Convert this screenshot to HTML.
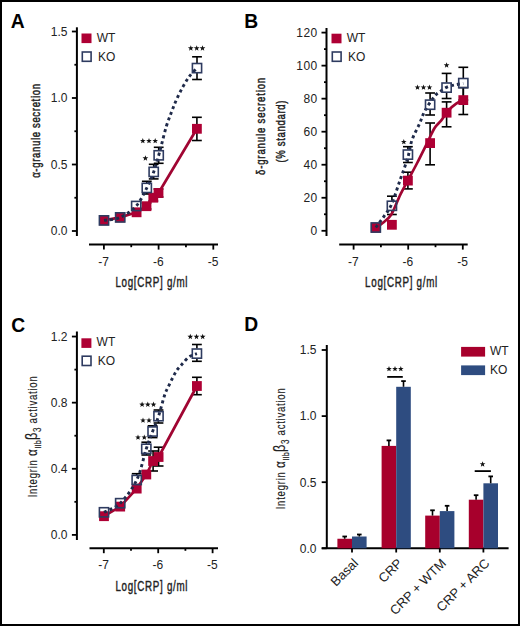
<!DOCTYPE html>
<html><head><meta charset="utf-8"><style>
html,body{margin:0;padding:0;background:#fff;}
body{width:520px;height:626px;overflow:hidden;}
svg{display:block;font-family:"Liberation Sans", sans-serif;}
</style></head><body>
<svg width="520" height="626" viewBox="0 0 520 626">
<rect x="0" y="0" width="520" height="626" fill="#fff"/>
<text x="10.80" y="27.50" font-size="19.3" text-anchor="start" fill="#000" font-weight="bold" >A</text>
<line x1="76.90" y1="27.30" x2="76.90" y2="236.00" stroke="#000" stroke-width="2" />
<line x1="71.90" y1="231.00" x2="76.90" y2="231.00" stroke="#000" stroke-width="1.8" />
<text x="67.50" y="235.30" font-size="12" text-anchor="end" fill="#222" font-weight="normal" >0.0</text>
<line x1="71.90" y1="164.50" x2="76.90" y2="164.50" stroke="#000" stroke-width="1.8" />
<text x="67.50" y="168.80" font-size="12" text-anchor="end" fill="#222" font-weight="normal" >0.5</text>
<line x1="71.90" y1="98.00" x2="76.90" y2="98.00" stroke="#000" stroke-width="1.8" />
<text x="67.50" y="102.30" font-size="12" text-anchor="end" fill="#222" font-weight="normal" >1.0</text>
<line x1="71.90" y1="31.50" x2="76.90" y2="31.50" stroke="#000" stroke-width="1.8" />
<text x="67.50" y="35.80" font-size="12" text-anchor="end" fill="#222" font-weight="normal" >1.5</text>
<line x1="74.40" y1="197.75" x2="76.90" y2="197.75" stroke="#000" stroke-width="1.8" />
<line x1="74.40" y1="131.25" x2="76.90" y2="131.25" stroke="#000" stroke-width="1.8" />
<line x1="74.40" y1="64.75" x2="76.90" y2="64.75" stroke="#000" stroke-width="1.8" />
<line x1="89.00" y1="244.60" x2="218.00" y2="244.60" stroke="#000" stroke-width="2" />
<line x1="103.90" y1="244.60" x2="103.90" y2="249.60" stroke="#000" stroke-width="1.8" />
<text x="103.60" y="265.80" font-size="12" text-anchor="middle" fill="#222" font-weight="normal" >-7</text>
<line x1="158.60" y1="244.60" x2="158.60" y2="249.60" stroke="#000" stroke-width="1.8" />
<text x="158.30" y="265.80" font-size="12" text-anchor="middle" fill="#222" font-weight="normal" >-6</text>
<line x1="213.30" y1="244.60" x2="213.30" y2="249.60" stroke="#000" stroke-width="1.8" />
<text x="213.00" y="265.80" font-size="12" text-anchor="middle" fill="#222" font-weight="normal" >-5</text>
<line x1="131.25" y1="244.60" x2="131.25" y2="247.20" stroke="#000" stroke-width="1.8" />
<line x1="185.95" y1="244.60" x2="185.95" y2="247.20" stroke="#000" stroke-width="1.8" />
<text transform="translate(151.80,286.90) scale(0.7,1)" font-size="14" text-anchor="middle" fill="#222" font-weight="normal" stroke="#222" stroke-width="0.42" letter-spacing="1.0">Log[CRP] g/ml</text>
<text transform="translate(40.40,130.60) rotate(-90) scale(0.8,1)" font-size="12" text-anchor="middle" fill="#222" font-weight="normal" stroke="#222" stroke-width="0.45" letter-spacing="0.8">α-granule secretion</text>
<rect x="81.50" y="33.50" width="10" height="9.6" fill="#ae0034"/>
<rect x="82.30" y="52.00" width="8.8" height="9.3" fill="none" stroke="#2e3b60" stroke-width="1.6"/>
<text x="96.70" y="41.60" font-size="12" text-anchor="start" fill="#222" font-weight="normal" >WT</text>
<text x="97.90" y="60.60" font-size="12" text-anchor="start" fill="#222" font-weight="normal" >KO</text>
<line x1="146.50" y1="203.00" x2="146.50" y2="209.00" stroke="#000" stroke-width="1.6" />
<line x1="141.60" y1="203.00" x2="151.40" y2="203.00" stroke="#000" stroke-width="1.6" />
<line x1="141.60" y1="209.00" x2="151.40" y2="209.00" stroke="#000" stroke-width="1.6" />
<line x1="153.30" y1="194.00" x2="153.30" y2="201.00" stroke="#000" stroke-width="1.6" />
<line x1="148.40" y1="194.00" x2="158.20" y2="194.00" stroke="#000" stroke-width="1.6" />
<line x1="148.40" y1="201.00" x2="158.20" y2="201.00" stroke="#000" stroke-width="1.6" />
<line x1="158.50" y1="189.00" x2="158.50" y2="197.00" stroke="#000" stroke-width="1.6" />
<line x1="153.60" y1="189.00" x2="163.40" y2="189.00" stroke="#000" stroke-width="1.6" />
<line x1="153.60" y1="197.00" x2="163.40" y2="197.00" stroke="#000" stroke-width="1.6" />
<line x1="196.90" y1="117.30" x2="196.90" y2="140.50" stroke="#000" stroke-width="1.6" />
<line x1="192.00" y1="117.30" x2="201.80" y2="117.30" stroke="#000" stroke-width="1.6" />
<line x1="192.00" y1="140.50" x2="201.80" y2="140.50" stroke="#000" stroke-width="1.6" />
<line x1="146.80" y1="181.30" x2="146.80" y2="182.90" stroke="#000" stroke-width="1.6" />
<line x1="141.90" y1="181.30" x2="151.70" y2="181.30" stroke="#000" stroke-width="1.6" />
<line x1="146.80" y1="192.90" x2="146.80" y2="194.00" stroke="#000" stroke-width="1.6" />
<line x1="141.90" y1="194.00" x2="151.70" y2="194.00" stroke="#000" stroke-width="1.6" />
<line x1="153.70" y1="164.30" x2="153.70" y2="166.90" stroke="#000" stroke-width="1.6" />
<line x1="148.80" y1="164.30" x2="158.60" y2="164.30" stroke="#000" stroke-width="1.6" />
<line x1="153.70" y1="176.90" x2="153.70" y2="178.90" stroke="#000" stroke-width="1.6" />
<line x1="148.80" y1="178.90" x2="158.60" y2="178.90" stroke="#000" stroke-width="1.6" />
<line x1="158.70" y1="147.30" x2="158.70" y2="150.30" stroke="#000" stroke-width="1.6" />
<line x1="153.80" y1="147.30" x2="163.60" y2="147.30" stroke="#000" stroke-width="1.6" />
<line x1="158.70" y1="160.30" x2="158.70" y2="163.30" stroke="#000" stroke-width="1.6" />
<line x1="153.80" y1="163.30" x2="163.60" y2="163.30" stroke="#000" stroke-width="1.6" />
<line x1="197.00" y1="56.80" x2="197.00" y2="63.10" stroke="#000" stroke-width="1.6" />
<line x1="192.10" y1="56.80" x2="201.90" y2="56.80" stroke="#000" stroke-width="1.6" />
<line x1="197.00" y1="73.10" x2="197.00" y2="79.50" stroke="#000" stroke-width="1.6" />
<line x1="192.10" y1="79.50" x2="201.90" y2="79.50" stroke="#000" stroke-width="1.6" />
<path d="M104.00,220.40 L120.20,217.40 L136.60,212.30 L146.50,206.20 L153.30,197.70 L158.50,193.00 L196.90,128.80" fill="none" stroke="#a00532" stroke-width="2.7" stroke-linejoin="round"/>
<rect x="99.10" y="215.50" width="9.8" height="9.8" fill="#ae0034"/>
<rect x="115.30" y="212.50" width="9.8" height="9.8" fill="#ae0034"/>
<rect x="131.70" y="207.40" width="9.8" height="9.8" fill="#ae0034"/>
<rect x="141.60" y="201.30" width="9.8" height="9.8" fill="#ae0034"/>
<rect x="148.40" y="192.80" width="9.8" height="9.8" fill="#ae0034"/>
<rect x="153.60" y="188.10" width="9.8" height="9.8" fill="#ae0034"/>
<rect x="192.00" y="123.90" width="9.8" height="9.8" fill="#ae0034"/>
<path d="M104.00,220.40 C106.70,219.90 114.83,219.80 120.20,217.40 C125.57,215.00 131.77,210.92 136.20,206.00 C140.63,201.08 143.88,193.58 146.80,187.90 C149.72,182.22 151.72,177.33 153.70,171.90 C155.68,166.47 157.32,160.15 158.70,155.30 C160.08,150.45 160.72,147.65 162.00,142.80 C163.28,137.95 164.82,131.32 166.40,126.20 C167.98,121.08 169.80,116.57 171.50,112.10 C173.20,107.63 174.68,103.65 176.60,99.40 C178.52,95.15 180.87,90.43 183.00,86.60 C185.13,82.77 187.07,79.48 189.40,76.40 C191.73,73.32 195.73,69.48 197.00,68.10" fill="none" stroke="#1f2a4a" stroke-width="2.9" stroke-dasharray="3 3.1"/>
<rect x="99.40" y="215.80" width="9.2" height="9.2" fill="none" stroke="#2e3b60" stroke-width="1.6"/>
<rect x="115.60" y="212.80" width="9.2" height="9.2" fill="none" stroke="#2e3b60" stroke-width="1.6"/>
<rect x="131.60" y="201.40" width="9.2" height="9.2" fill="none" stroke="#2e3b60" stroke-width="1.6"/>
<rect x="142.20" y="183.30" width="9.2" height="9.2" fill="none" stroke="#2e3b60" stroke-width="1.6"/>
<rect x="149.10" y="167.30" width="9.2" height="9.2" fill="none" stroke="#2e3b60" stroke-width="1.6"/>
<rect x="154.10" y="150.70" width="9.2" height="9.2" fill="none" stroke="#2e3b60" stroke-width="1.6"/>
<rect x="192.40" y="63.50" width="9.2" height="9.2" fill="none" stroke="#2e3b60" stroke-width="1.6"/>
<polygon points="190.80,45.30 191.53,47.29 193.65,47.37 191.99,48.69 192.56,50.73 190.80,49.55 189.04,50.73 189.61,48.69 187.95,47.37 190.07,47.29" fill="#111"/>
<polygon points="196.70,45.30 197.43,47.29 199.55,47.37 197.89,48.69 198.46,50.73 196.70,49.55 194.94,50.73 195.51,48.69 193.85,47.37 195.97,47.29" fill="#111"/>
<polygon points="202.50,45.30 203.23,47.29 205.35,47.37 203.69,48.69 204.26,50.73 202.50,49.55 200.74,50.73 201.31,48.69 199.65,47.37 201.77,47.29" fill="#111"/>
<polygon points="142.80,137.90 143.53,139.89 145.65,139.97 143.99,141.29 144.56,143.33 142.80,142.15 141.04,143.33 141.61,141.29 139.95,139.97 142.07,139.89" fill="#111"/>
<polygon points="149.00,137.90 149.73,139.89 151.85,139.97 150.19,141.29 150.76,143.33 149.00,142.15 147.24,143.33 147.81,141.29 146.15,139.97 148.27,139.89" fill="#111"/>
<polygon points="155.20,137.90 155.93,139.89 158.05,139.97 156.39,141.29 156.96,143.33 155.20,142.15 153.44,143.33 154.01,141.29 152.35,139.97 154.47,139.89" fill="#111"/>
<polygon points="145.40,155.30 146.13,157.29 148.25,157.37 146.59,158.69 147.16,160.73 145.40,159.55 143.64,160.73 144.21,158.69 142.55,157.37 144.67,157.29" fill="#111"/>
<text x="244.30" y="27.70" font-size="19.3" text-anchor="start" fill="#000" font-weight="bold" >B</text>
<line x1="326.50" y1="28.00" x2="326.50" y2="236.00" stroke="#000" stroke-width="2" />
<line x1="321.50" y1="230.80" x2="326.50" y2="230.80" stroke="#000" stroke-width="1.8" />
<text x="317.80" y="235.10" font-size="12" text-anchor="end" fill="#222" font-weight="normal" letter-spacing="0.5">0</text>
<line x1="321.50" y1="197.77" x2="326.50" y2="197.77" stroke="#000" stroke-width="1.8" />
<text x="317.80" y="202.07" font-size="12" text-anchor="end" fill="#222" font-weight="normal" letter-spacing="0.5">20</text>
<line x1="321.50" y1="164.73" x2="326.50" y2="164.73" stroke="#000" stroke-width="1.8" />
<text x="317.80" y="169.03" font-size="12" text-anchor="end" fill="#222" font-weight="normal" letter-spacing="0.5">40</text>
<line x1="321.50" y1="131.70" x2="326.50" y2="131.70" stroke="#000" stroke-width="1.8" />
<text x="317.80" y="136.00" font-size="12" text-anchor="end" fill="#222" font-weight="normal" letter-spacing="0.5">60</text>
<line x1="321.50" y1="98.66" x2="326.50" y2="98.66" stroke="#000" stroke-width="1.8" />
<text x="317.80" y="102.96" font-size="12" text-anchor="end" fill="#222" font-weight="normal" letter-spacing="0.5">80</text>
<line x1="321.50" y1="65.63" x2="326.50" y2="65.63" stroke="#000" stroke-width="1.8" />
<text x="317.80" y="69.93" font-size="12" text-anchor="end" fill="#222" font-weight="normal" letter-spacing="0.5">100</text>
<line x1="321.50" y1="32.60" x2="326.50" y2="32.60" stroke="#000" stroke-width="1.8" />
<text x="317.80" y="36.90" font-size="12" text-anchor="end" fill="#222" font-weight="normal" letter-spacing="0.5">120</text>
<line x1="324.00" y1="214.28" x2="326.50" y2="214.28" stroke="#000" stroke-width="1.8" />
<line x1="324.00" y1="181.25" x2="326.50" y2="181.25" stroke="#000" stroke-width="1.8" />
<line x1="324.00" y1="148.22" x2="326.50" y2="148.22" stroke="#000" stroke-width="1.8" />
<line x1="324.00" y1="115.18" x2="326.50" y2="115.18" stroke="#000" stroke-width="1.8" />
<line x1="324.00" y1="82.15" x2="326.50" y2="82.15" stroke="#000" stroke-width="1.8" />
<line x1="324.00" y1="49.11" x2="326.50" y2="49.11" stroke="#000" stroke-width="1.8" />
<line x1="339.20" y1="244.60" x2="467.70" y2="244.60" stroke="#000" stroke-width="2" />
<line x1="353.60" y1="244.60" x2="353.60" y2="249.60" stroke="#000" stroke-width="1.8" />
<text x="353.30" y="265.80" font-size="12" text-anchor="middle" fill="#222" font-weight="normal" >-7</text>
<line x1="408.20" y1="244.60" x2="408.20" y2="249.60" stroke="#000" stroke-width="1.8" />
<text x="407.90" y="265.80" font-size="12" text-anchor="middle" fill="#222" font-weight="normal" >-6</text>
<line x1="462.80" y1="244.60" x2="462.80" y2="249.60" stroke="#000" stroke-width="1.8" />
<text x="462.50" y="265.80" font-size="12" text-anchor="middle" fill="#222" font-weight="normal" >-5</text>
<line x1="380.90" y1="244.60" x2="380.90" y2="247.20" stroke="#000" stroke-width="1.8" />
<line x1="435.50" y1="244.60" x2="435.50" y2="247.20" stroke="#000" stroke-width="1.8" />
<text transform="translate(401.50,286.90) scale(0.7,1)" font-size="14" text-anchor="middle" fill="#222" font-weight="normal" stroke="#222" stroke-width="0.42" letter-spacing="1.0">Log[CRP] g/ml</text>
<text transform="translate(264.60,126.00) rotate(-90) scale(0.8,1)" font-size="12" text-anchor="middle" fill="#222" font-weight="normal" stroke="#222" stroke-width="0.45" letter-spacing="1.05">δ-granule secretion</text>
<text transform="translate(285.20,131.20) rotate(-90) scale(0.8,1)" font-size="12" text-anchor="middle" fill="#222" font-weight="normal" stroke="#222" stroke-width="0.45" letter-spacing="0.8">(% standard)</text>
<rect x="331.50" y="33.70" width="10" height="9.6" fill="#ae0034"/>
<rect x="332.30" y="52.00" width="8.8" height="9.3" fill="none" stroke="#2e3b60" stroke-width="1.6"/>
<text x="346.70" y="41.80" font-size="12" text-anchor="start" fill="#222" font-weight="normal" >WT</text>
<text x="347.90" y="60.60" font-size="12" text-anchor="start" fill="#222" font-weight="normal" >KO</text>
<line x1="407.90" y1="172.20" x2="407.90" y2="188.90" stroke="#000" stroke-width="1.6" />
<line x1="403.00" y1="172.20" x2="412.80" y2="172.20" stroke="#000" stroke-width="1.6" />
<line x1="403.00" y1="188.90" x2="412.80" y2="188.90" stroke="#000" stroke-width="1.6" />
<line x1="430.10" y1="123.00" x2="430.10" y2="164.80" stroke="#000" stroke-width="1.6" />
<line x1="425.20" y1="123.00" x2="435.00" y2="123.00" stroke="#000" stroke-width="1.6" />
<line x1="425.20" y1="164.80" x2="435.00" y2="164.80" stroke="#000" stroke-width="1.6" />
<line x1="446.60" y1="101.90" x2="446.60" y2="126.80" stroke="#000" stroke-width="1.6" />
<line x1="441.70" y1="101.90" x2="451.50" y2="101.90" stroke="#000" stroke-width="1.6" />
<line x1="441.70" y1="126.80" x2="451.50" y2="126.80" stroke="#000" stroke-width="1.6" />
<line x1="463.30" y1="87.60" x2="463.30" y2="114.50" stroke="#000" stroke-width="1.6" />
<line x1="458.40" y1="87.60" x2="468.20" y2="87.60" stroke="#000" stroke-width="1.6" />
<line x1="458.40" y1="114.50" x2="468.20" y2="114.50" stroke="#000" stroke-width="1.6" />
<line x1="391.90" y1="196.20" x2="391.90" y2="200.80" stroke="#000" stroke-width="1.6" />
<line x1="387.00" y1="196.20" x2="396.80" y2="196.20" stroke="#000" stroke-width="1.6" />
<line x1="391.90" y1="210.80" x2="391.90" y2="214.50" stroke="#000" stroke-width="1.6" />
<line x1="387.00" y1="214.50" x2="396.80" y2="214.50" stroke="#000" stroke-width="1.6" />
<line x1="407.90" y1="146.70" x2="407.90" y2="149.60" stroke="#000" stroke-width="1.6" />
<line x1="403.00" y1="146.70" x2="412.80" y2="146.70" stroke="#000" stroke-width="1.6" />
<line x1="407.90" y1="159.60" x2="407.90" y2="162.50" stroke="#000" stroke-width="1.6" />
<line x1="403.00" y1="162.50" x2="412.80" y2="162.50" stroke="#000" stroke-width="1.6" />
<line x1="430.10" y1="93.00" x2="430.10" y2="99.70" stroke="#000" stroke-width="1.6" />
<line x1="425.20" y1="93.00" x2="435.00" y2="93.00" stroke="#000" stroke-width="1.6" />
<line x1="430.10" y1="109.70" x2="430.10" y2="115.00" stroke="#000" stroke-width="1.6" />
<line x1="425.20" y1="115.00" x2="435.00" y2="115.00" stroke="#000" stroke-width="1.6" />
<line x1="446.60" y1="73.40" x2="446.60" y2="82.60" stroke="#000" stroke-width="1.6" />
<line x1="441.70" y1="73.40" x2="451.50" y2="73.40" stroke="#000" stroke-width="1.6" />
<line x1="446.60" y1="92.60" x2="446.60" y2="98.50" stroke="#000" stroke-width="1.6" />
<line x1="441.70" y1="98.50" x2="451.50" y2="98.50" stroke="#000" stroke-width="1.6" />
<line x1="463.30" y1="67.30" x2="463.30" y2="78.10" stroke="#000" stroke-width="1.6" />
<line x1="458.40" y1="67.30" x2="468.20" y2="67.30" stroke="#000" stroke-width="1.6" />
<line x1="463.30" y1="88.10" x2="463.30" y2="100.00" stroke="#000" stroke-width="1.6" />
<line x1="458.40" y1="100.00" x2="468.20" y2="100.00" stroke="#000" stroke-width="1.6" />
<path d="M375.80,227.80 C376.98,226.97 380.28,225.07 382.90,222.80 C385.52,220.53 388.62,218.87 391.50,214.20 C394.38,209.53 397.40,200.55 400.20,194.80 C403.00,189.05 405.43,185.08 408.30,179.70 C411.17,174.32 414.27,168.60 417.40,162.50 C420.53,156.40 424.23,148.85 427.10,143.10 C429.97,137.35 432.23,131.80 434.60,128.00 C436.97,124.20 439.02,123.20 441.30,120.30 C443.58,117.40 445.82,113.38 448.30,110.60 C450.78,107.82 453.70,105.35 456.20,103.60 C458.70,101.85 462.12,100.68 463.30,100.10" fill="none" stroke="#a00532" stroke-width="2.7" stroke-linejoin="round"/>
<rect x="370.90" y="222.90" width="9.8" height="9.8" fill="#ae0034"/>
<rect x="387.00" y="219.90" width="9.8" height="9.8" fill="#ae0034"/>
<rect x="403.00" y="175.70" width="9.8" height="9.8" fill="#ae0034"/>
<rect x="425.20" y="138.20" width="9.8" height="9.8" fill="#ae0034"/>
<rect x="441.70" y="107.80" width="9.8" height="9.8" fill="#ae0034"/>
<rect x="458.40" y="95.20" width="9.8" height="9.8" fill="#ae0034"/>
<path d="M375.80,227.50 C377.17,225.63 381.38,220.13 384.00,216.30 C386.62,212.47 388.80,210.60 391.50,204.50 C394.20,198.40 397.50,187.45 400.20,179.70 C402.90,171.95 405.73,164.62 407.70,158.00 C409.67,151.38 410.03,145.72 412.00,140.00 C413.97,134.28 417.35,128.57 419.50,123.70 C421.65,118.83 422.43,115.32 424.90,110.80 C427.37,106.28 431.72,99.85 434.30,96.60 C436.88,93.35 438.20,92.92 440.40,91.30 C442.60,89.68 444.87,88.02 447.50,86.90 C450.13,85.78 453.57,85.17 456.20,84.60 C458.83,84.03 462.12,83.68 463.30,83.50" fill="none" stroke="#1f2a4a" stroke-width="2.9" stroke-dasharray="3 3.1"/>
<rect x="371.20" y="222.90" width="9.2" height="9.2" fill="none" stroke="#2e3b60" stroke-width="1.6"/>
<rect x="387.30" y="201.20" width="9.2" height="9.2" fill="none" stroke="#2e3b60" stroke-width="1.6"/>
<rect x="403.30" y="150.00" width="9.2" height="9.2" fill="none" stroke="#2e3b60" stroke-width="1.6"/>
<rect x="425.50" y="100.10" width="9.2" height="9.2" fill="none" stroke="#2e3b60" stroke-width="1.6"/>
<rect x="442.00" y="83.00" width="9.2" height="9.2" fill="none" stroke="#2e3b60" stroke-width="1.6"/>
<rect x="458.70" y="78.50" width="9.2" height="9.2" fill="none" stroke="#2e3b60" stroke-width="1.6"/>
<polygon points="403.80,138.90 404.53,140.89 406.65,140.97 404.99,142.29 405.56,144.33 403.80,143.15 402.04,144.33 402.61,142.29 400.95,140.97 403.07,140.89" fill="#111"/>
<polygon points="417.50,84.40 418.23,86.39 420.35,86.47 418.69,87.79 419.26,89.83 417.50,88.65 415.74,89.83 416.31,87.79 414.65,86.47 416.77,86.39" fill="#111"/>
<polygon points="423.50,84.40 424.23,86.39 426.35,86.47 424.69,87.79 425.26,89.83 423.50,88.65 421.74,89.83 422.31,87.79 420.65,86.47 422.77,86.39" fill="#111"/>
<polygon points="429.50,84.40 430.23,86.39 432.35,86.47 430.69,87.79 431.26,89.83 429.50,88.65 427.74,89.83 428.31,87.79 426.65,86.47 428.77,86.39" fill="#111"/>
<polygon points="446.60,62.30 447.33,64.29 449.45,64.37 447.79,65.69 448.36,67.73 446.60,66.55 444.84,67.73 445.41,65.69 443.75,64.37 445.87,64.29" fill="#111"/>
<text x="11.30" y="332.20" font-size="19.3" text-anchor="start" fill="#000" font-weight="bold" >C</text>
<line x1="76.90" y1="331.50" x2="76.90" y2="540.00" stroke="#000" stroke-width="2" />
<line x1="71.90" y1="534.90" x2="76.90" y2="534.90" stroke="#000" stroke-width="1.8" />
<text x="67.50" y="539.20" font-size="12" text-anchor="end" fill="#222" font-weight="normal" >0.0</text>
<line x1="71.90" y1="468.78" x2="76.90" y2="468.78" stroke="#000" stroke-width="1.8" />
<text x="67.50" y="473.08" font-size="12" text-anchor="end" fill="#222" font-weight="normal" >0.4</text>
<line x1="71.90" y1="402.66" x2="76.90" y2="402.66" stroke="#000" stroke-width="1.8" />
<text x="67.50" y="406.96" font-size="12" text-anchor="end" fill="#222" font-weight="normal" >0.8</text>
<line x1="71.90" y1="336.54" x2="76.90" y2="336.54" stroke="#000" stroke-width="1.8" />
<text x="67.50" y="340.84" font-size="12" text-anchor="end" fill="#222" font-weight="normal" >1.2</text>
<line x1="74.40" y1="501.84" x2="76.90" y2="501.84" stroke="#000" stroke-width="1.8" />
<line x1="74.40" y1="435.72" x2="76.90" y2="435.72" stroke="#000" stroke-width="1.8" />
<line x1="74.40" y1="369.60" x2="76.90" y2="369.60" stroke="#000" stroke-width="1.8" />
<line x1="89.50" y1="548.20" x2="218.00" y2="548.20" stroke="#000" stroke-width="2" />
<line x1="103.80" y1="548.20" x2="103.80" y2="553.20" stroke="#000" stroke-width="1.8" />
<text x="103.50" y="569.40" font-size="12" text-anchor="middle" fill="#222" font-weight="normal" >-7</text>
<line x1="158.20" y1="548.20" x2="158.20" y2="553.20" stroke="#000" stroke-width="1.8" />
<text x="157.90" y="569.40" font-size="12" text-anchor="middle" fill="#222" font-weight="normal" >-6</text>
<line x1="212.60" y1="548.20" x2="212.60" y2="553.20" stroke="#000" stroke-width="1.8" />
<text x="212.30" y="569.40" font-size="12" text-anchor="middle" fill="#222" font-weight="normal" >-5</text>
<line x1="131.00" y1="548.20" x2="131.00" y2="550.80" stroke="#000" stroke-width="1.8" />
<line x1="185.40" y1="548.20" x2="185.40" y2="550.80" stroke="#000" stroke-width="1.8" />
<text transform="translate(151.80,590.50) scale(0.7,1)" font-size="14" text-anchor="middle" fill="#222" font-weight="normal" stroke="#222" stroke-width="0.42" letter-spacing="1.0">Log[CRP] g/ml</text>
<text transform="translate(37.20,436.40) rotate(-90) scale(0.8,1)" font-size="12" text-anchor="middle" fill="#222" font-weight="normal" stroke="#222" stroke-width="0.15" letter-spacing="0.92">Integrin <tspan font-size='14.5'>α</tspan><tspan font-size='9' dy='3.3' letter-spacing='0.2'>IIb</tspan><tspan font-size='16' dy='-3.3'>β</tspan><tspan font-size='10' dy='3.3'>3</tspan><tspan dy='-3.3'> activation</tspan></text>
<rect x="81.40" y="338.30" width="10" height="9.6" fill="#ae0034"/>
<rect x="82.20" y="356.20" width="8.8" height="9.3" fill="none" stroke="#2e3b60" stroke-width="1.6"/>
<text x="96.60" y="346.40" font-size="12" text-anchor="start" fill="#222" font-weight="normal" >WT</text>
<text x="97.80" y="364.80" font-size="12" text-anchor="start" fill="#222" font-weight="normal" >KO</text>
<line x1="153.10" y1="451.00" x2="153.10" y2="471.00" stroke="#000" stroke-width="1.6" />
<line x1="148.20" y1="451.00" x2="158.00" y2="451.00" stroke="#000" stroke-width="1.6" />
<line x1="148.20" y1="471.00" x2="158.00" y2="471.00" stroke="#000" stroke-width="1.6" />
<line x1="158.60" y1="447.20" x2="158.60" y2="466.00" stroke="#000" stroke-width="1.6" />
<line x1="153.70" y1="447.20" x2="163.50" y2="447.20" stroke="#000" stroke-width="1.6" />
<line x1="153.70" y1="466.00" x2="163.50" y2="466.00" stroke="#000" stroke-width="1.6" />
<line x1="196.90" y1="377.30" x2="196.90" y2="394.70" stroke="#000" stroke-width="1.6" />
<line x1="192.00" y1="377.30" x2="201.80" y2="377.30" stroke="#000" stroke-width="1.6" />
<line x1="192.00" y1="394.70" x2="201.80" y2="394.70" stroke="#000" stroke-width="1.6" />
<line x1="136.70" y1="473.70" x2="136.70" y2="475.00" stroke="#000" stroke-width="1.6" />
<line x1="131.80" y1="473.70" x2="141.60" y2="473.70" stroke="#000" stroke-width="1.6" />
<line x1="146.30" y1="442.20" x2="146.30" y2="443.80" stroke="#000" stroke-width="1.6" />
<line x1="141.40" y1="442.20" x2="151.20" y2="442.20" stroke="#000" stroke-width="1.6" />
<line x1="146.30" y1="453.80" x2="146.30" y2="455.00" stroke="#000" stroke-width="1.6" />
<line x1="141.40" y1="455.00" x2="151.20" y2="455.00" stroke="#000" stroke-width="1.6" />
<line x1="152.60" y1="425.80" x2="152.60" y2="426.50" stroke="#000" stroke-width="1.6" />
<line x1="147.70" y1="425.80" x2="157.50" y2="425.80" stroke="#000" stroke-width="1.6" />
<line x1="152.60" y1="436.50" x2="152.60" y2="437.60" stroke="#000" stroke-width="1.6" />
<line x1="147.70" y1="437.60" x2="157.50" y2="437.60" stroke="#000" stroke-width="1.6" />
<line x1="158.50" y1="410.00" x2="158.50" y2="411.20" stroke="#000" stroke-width="1.6" />
<line x1="153.60" y1="410.00" x2="163.40" y2="410.00" stroke="#000" stroke-width="1.6" />
<line x1="158.50" y1="421.20" x2="158.50" y2="423.00" stroke="#000" stroke-width="1.6" />
<line x1="153.60" y1="423.00" x2="163.40" y2="423.00" stroke="#000" stroke-width="1.6" />
<line x1="196.90" y1="344.50" x2="196.90" y2="348.60" stroke="#000" stroke-width="1.6" />
<line x1="192.00" y1="344.50" x2="201.80" y2="344.50" stroke="#000" stroke-width="1.6" />
<line x1="196.90" y1="358.60" x2="196.90" y2="361.30" stroke="#000" stroke-width="1.6" />
<line x1="192.00" y1="361.30" x2="201.80" y2="361.30" stroke="#000" stroke-width="1.6" />
<path d="M104.00,516.20 L120.20,506.60 L136.70,488.60 L146.30,474.50 L153.10,461.00 L158.60,457.00 L196.90,386.00" fill="none" stroke="#a00532" stroke-width="2.7" stroke-linejoin="round"/>
<rect x="99.10" y="511.30" width="9.8" height="9.8" fill="#ae0034"/>
<rect x="115.30" y="501.70" width="9.8" height="9.8" fill="#ae0034"/>
<rect x="131.80" y="483.70" width="9.8" height="9.8" fill="#ae0034"/>
<rect x="141.40" y="469.60" width="9.8" height="9.8" fill="#ae0034"/>
<rect x="148.20" y="456.10" width="9.8" height="9.8" fill="#ae0034"/>
<rect x="153.70" y="452.10" width="9.8" height="9.8" fill="#ae0034"/>
<rect x="192.00" y="381.10" width="9.8" height="9.8" fill="#ae0034"/>
<path d="M104.00,512.30 C106.70,510.78 114.75,508.58 120.20,503.20 C125.65,497.82 132.35,489.07 136.70,480.00 C141.05,470.93 143.65,456.88 146.30,448.80 C148.95,440.72 150.57,436.93 152.60,431.50 C154.63,426.07 156.50,422.25 158.50,416.20 C160.50,410.15 162.98,400.08 164.60,395.20 C166.22,390.32 166.82,389.88 168.20,386.90 C169.58,383.92 171.52,380.00 172.90,377.30 C174.28,374.60 175.30,372.50 176.50,370.70 C177.70,368.90 178.90,367.90 180.10,366.50 C181.30,365.10 182.30,363.85 183.70,362.30 C185.10,360.75 186.90,358.45 188.50,357.20 C190.10,355.95 191.90,355.40 193.30,354.80 C194.70,354.20 196.30,353.80 196.90,353.60" fill="none" stroke="#1f2a4a" stroke-width="2.9" stroke-dasharray="3 3.1"/>
<rect x="99.40" y="507.70" width="9.2" height="9.2" fill="none" stroke="#2e3b60" stroke-width="1.6"/>
<rect x="115.60" y="498.60" width="9.2" height="9.2" fill="none" stroke="#2e3b60" stroke-width="1.6"/>
<rect x="132.10" y="475.40" width="9.2" height="9.2" fill="none" stroke="#2e3b60" stroke-width="1.6"/>
<rect x="141.70" y="444.20" width="9.2" height="9.2" fill="none" stroke="#2e3b60" stroke-width="1.6"/>
<rect x="148.00" y="426.90" width="9.2" height="9.2" fill="none" stroke="#2e3b60" stroke-width="1.6"/>
<rect x="153.90" y="411.60" width="9.2" height="9.2" fill="none" stroke="#2e3b60" stroke-width="1.6"/>
<rect x="192.30" y="349.00" width="9.2" height="9.2" fill="none" stroke="#2e3b60" stroke-width="1.6"/>
<polygon points="190.30,333.80 191.03,335.79 193.15,335.87 191.49,337.19 192.06,339.23 190.30,338.05 188.54,339.23 189.11,337.19 187.45,335.87 189.57,335.79" fill="#111"/>
<polygon points="196.50,333.80 197.23,335.79 199.35,335.87 197.69,337.19 198.26,339.23 196.50,338.05 194.74,339.23 195.31,337.19 193.65,335.87 195.77,335.79" fill="#111"/>
<polygon points="202.70,333.80 203.43,335.79 205.55,335.87 203.89,337.19 204.46,339.23 202.70,338.05 200.94,339.23 201.51,337.19 199.85,335.87 201.97,335.79" fill="#111"/>
<polygon points="142.10,401.60 142.83,403.59 144.95,403.67 143.29,404.99 143.86,407.03 142.10,405.85 140.34,407.03 140.91,404.99 139.25,403.67 141.37,403.59" fill="#111"/>
<polygon points="147.80,401.60 148.53,403.59 150.65,403.67 148.99,404.99 149.56,407.03 147.80,405.85 146.04,407.03 146.61,404.99 144.95,403.67 147.07,403.59" fill="#111"/>
<polygon points="153.50,401.60 154.23,403.59 156.35,403.67 154.69,404.99 155.26,407.03 153.50,405.85 151.74,407.03 152.31,404.99 150.65,403.67 152.77,403.59" fill="#111"/>
<polygon points="143.00,417.40 143.73,419.39 145.85,419.47 144.19,420.79 144.76,422.83 143.00,421.65 141.24,422.83 141.81,420.79 140.15,419.47 142.27,419.39" fill="#111"/>
<polygon points="149.00,417.40 149.73,419.39 151.85,419.47 150.19,420.79 150.76,422.83 149.00,421.65 147.24,422.83 147.81,420.79 146.15,419.47 148.27,419.39" fill="#111"/>
<polygon points="138.00,434.40 138.73,436.39 140.85,436.47 139.19,437.79 139.76,439.83 138.00,438.65 136.24,439.83 136.81,437.79 135.15,436.47 137.27,436.39" fill="#111"/>
<polygon points="144.30,434.40 145.03,436.39 147.15,436.47 145.49,437.79 146.06,439.83 144.30,438.65 142.54,439.83 143.11,437.79 141.45,436.47 143.57,436.39" fill="#111"/>
<text x="244.30" y="331.40" font-size="19.3" text-anchor="start" fill="#000" font-weight="bold" >D</text>
<line x1="326.80" y1="345.00" x2="326.80" y2="549.00" stroke="#000" stroke-width="2" />
<line x1="321.70" y1="548.30" x2="326.80" y2="548.30" stroke="#000" stroke-width="1.8" />
<text x="316.50" y="552.60" font-size="12" text-anchor="end" fill="#222" font-weight="normal" >0.0</text>
<line x1="321.70" y1="482.20" x2="326.80" y2="482.20" stroke="#000" stroke-width="1.8" />
<text x="316.50" y="486.50" font-size="12" text-anchor="end" fill="#222" font-weight="normal" >0.5</text>
<line x1="321.70" y1="416.10" x2="326.80" y2="416.10" stroke="#000" stroke-width="1.8" />
<text x="316.50" y="420.40" font-size="12" text-anchor="end" fill="#222" font-weight="normal" >1.0</text>
<line x1="321.70" y1="350.00" x2="326.80" y2="350.00" stroke="#000" stroke-width="1.8" />
<text x="316.50" y="354.30" font-size="12" text-anchor="end" fill="#222" font-weight="normal" >1.5</text>
<line x1="321.70" y1="548.30" x2="508.60" y2="548.30" stroke="#000" stroke-width="2" />
<rect x="337.40" y="538.75" width="14.6" height="9.55" fill="#a7002c"/>
<line x1="344.70" y1="538.75" x2="344.70" y2="536.50" stroke="#000" stroke-width="1.6" />
<line x1="342.40" y1="536.50" x2="347.00" y2="536.50" stroke="#000" stroke-width="1.8" />
<rect x="381.60" y="445.90" width="14.6" height="102.40" fill="#a7002c"/>
<line x1="388.90" y1="445.90" x2="388.90" y2="440.40" stroke="#000" stroke-width="1.6" />
<line x1="386.60" y1="440.40" x2="391.20" y2="440.40" stroke="#000" stroke-width="1.8" />
<rect x="425.20" y="515.60" width="14.6" height="32.70" fill="#a7002c"/>
<line x1="432.50" y1="515.60" x2="432.50" y2="510.30" stroke="#000" stroke-width="1.6" />
<line x1="430.20" y1="510.30" x2="434.80" y2="510.30" stroke="#000" stroke-width="1.8" />
<rect x="468.80" y="499.70" width="14.6" height="48.60" fill="#a7002c"/>
<line x1="476.10" y1="499.70" x2="476.10" y2="495.20" stroke="#000" stroke-width="1.6" />
<line x1="473.80" y1="495.20" x2="478.40" y2="495.20" stroke="#000" stroke-width="1.8" />
<rect x="352.00" y="536.50" width="14.6" height="11.80" fill="#2e4c80"/>
<line x1="359.30" y1="536.50" x2="359.30" y2="534.50" stroke="#000" stroke-width="1.6" />
<line x1="357.00" y1="534.50" x2="361.60" y2="534.50" stroke="#000" stroke-width="1.8" />
<rect x="396.20" y="386.80" width="14.6" height="161.50" fill="#2e4c80"/>
<line x1="403.50" y1="386.80" x2="403.50" y2="381.10" stroke="#000" stroke-width="1.6" />
<line x1="401.20" y1="381.10" x2="405.80" y2="381.10" stroke="#000" stroke-width="1.8" />
<rect x="439.80" y="511.10" width="14.6" height="37.20" fill="#2e4c80"/>
<line x1="447.10" y1="511.10" x2="447.10" y2="505.80" stroke="#000" stroke-width="1.6" />
<line x1="444.80" y1="505.80" x2="449.40" y2="505.80" stroke="#000" stroke-width="1.8" />
<rect x="483.40" y="483.30" width="14.6" height="65.00" fill="#2e4c80"/>
<line x1="490.70" y1="483.30" x2="490.70" y2="476.40" stroke="#000" stroke-width="1.6" />
<line x1="488.40" y1="476.40" x2="493.00" y2="476.40" stroke="#000" stroke-width="1.8" />
<line x1="352.00" y1="548.30" x2="352.00" y2="552.50" stroke="#000" stroke-width="1.8" />
<line x1="396.20" y1="548.30" x2="396.20" y2="552.50" stroke="#000" stroke-width="1.8" />
<line x1="439.80" y1="548.30" x2="439.80" y2="552.50" stroke="#000" stroke-width="1.8" />
<line x1="483.40" y1="548.30" x2="483.40" y2="552.50" stroke="#000" stroke-width="1.8" />
<line x1="387.20" y1="376.90" x2="402.80" y2="376.90" stroke="#000" stroke-width="1.8" />
<polygon points="389.00,365.90 389.73,367.89 391.85,367.97 390.19,369.29 390.76,371.33 389.00,370.15 387.24,371.33 387.81,369.29 386.15,367.97 388.27,367.89" fill="#111"/>
<polygon points="395.00,365.90 395.73,367.89 397.85,367.97 396.19,369.29 396.76,371.33 395.00,370.15 393.24,371.33 393.81,369.29 392.15,367.97 394.27,367.89" fill="#111"/>
<polygon points="400.80,365.90 401.53,367.89 403.65,367.97 401.99,369.29 402.56,371.33 400.80,370.15 399.04,371.33 399.61,369.29 397.95,367.97 400.07,367.89" fill="#111"/>
<line x1="474.70" y1="471.10" x2="490.90" y2="471.10" stroke="#000" stroke-width="1.8" />
<polygon points="482.60,461.20 483.33,463.19 485.45,463.27 483.79,464.59 484.36,466.63 482.60,465.45 480.84,466.63 481.41,464.59 479.75,463.27 481.87,463.19" fill="#111"/>
<rect x="461.1" y="346.9" width="24" height="9.7" fill="#a7002c"/>
<rect x="461.1" y="365.4" width="24" height="9.7" fill="#2e4c80"/>
<text x="490.00" y="355.40" font-size="12" text-anchor="start" fill="#222" font-weight="normal" >WT</text>
<text x="490.00" y="373.80" font-size="12" text-anchor="start" fill="#222" font-weight="normal" >KO</text>
<text transform="translate(359.00,564.00) rotate(-45)" font-size="13" text-anchor="end" fill="#222">Basal</text>
<text transform="translate(403.20,564.00) rotate(-45)" font-size="13" text-anchor="end" fill="#222">CRP</text>
<text transform="translate(446.80,564.00) rotate(-45)" font-size="13" text-anchor="end" fill="#222">CRP + WTM</text>
<text transform="translate(490.40,564.00) rotate(-45)" font-size="13" text-anchor="end" fill="#222">CRP + ARC</text>
<text transform="translate(285.20,448.40) rotate(-90) scale(0.8,1)" font-size="12" text-anchor="middle" fill="#222" font-weight="normal" stroke="#222" stroke-width="0.15" letter-spacing="0.92">Integrin <tspan font-size='14.5'>α</tspan><tspan font-size='9' dy='3.3' letter-spacing='0.2'>IIb</tspan><tspan font-size='16' dy='-3.3'>β</tspan><tspan font-size='10' dy='3.3'>3</tspan><tspan dy='-3.3'> activation</tspan></text>
<rect x="1" y="1" width="518" height="624" fill="none" stroke="#000" stroke-width="2"/>
</svg>
</body></html>
